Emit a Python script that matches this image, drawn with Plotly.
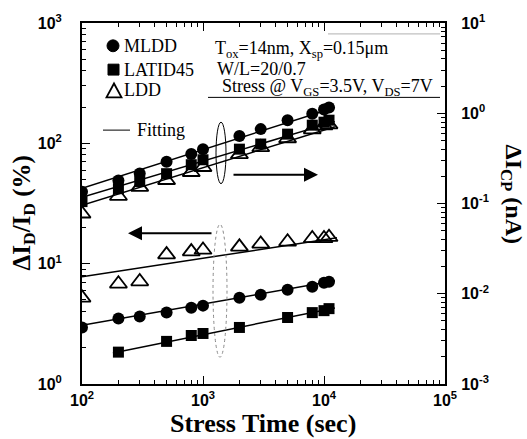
import plotly.graph_objects as go

# Stress times (s)
t_all = [100, 200, 300, 500, 800, 1000, 2000, 3000, 5000, 8000, 10000, 11000]
t_latid_id = [200, 500, 800, 1000, 2000, 5000, 8000, 10000, 11000]

# Drain-current degradation dI_D/I_D (%) -- left axis
mldd_id = [2.95, 3.50, 3.64, 3.92, 4.31, 4.48, 5.21, 5.52, 6.07, 6.42, 6.93, 7.06]
latid_id = [1.84, 2.26, 2.53, 2.63, 2.95, 3.57, 3.92, 4.07, 4.23]
ldd_id = [5.2, 6.8, 7.1, 11.9, 12.6, 13.0, 13.8, 14.6, 15.2, 16.2, 16.2, 16.6]

# Charge-pumping current increase dI_CP (nA) -- right axis
mldd_cp = [0.135, 0.18, 0.215, 0.29, 0.354, 0.40, 0.56, 0.667, 0.837, 0.99, 1.1, 1.16]
latid_cp = [0.105, 0.146, 0.175, 0.214, 0.269, 0.305, 0.40, 0.456, 0.587, 0.738, 0.796, 0.838]
ldd_cp = [0.077, 0.121, 0.152, 0.181, 0.222, 0.252, 0.35, 0.418, 0.525, 0.659, 0.73, 0.748]

# Power-law fit lines (end points on log-log axes)
fit_t = [100, 12300]
fit_t_latid = [180, 12300]
fit_ldd_t = [100, 12800]
fit_mldd_id = [3.07, 7.2]
fit_latid_id = [1.81, 4.29]
fit_ldd_id = [7.8, 16.4]
fit_mldd_cp = [0.147, 1.16]
fit_latid_cp = [0.117, 0.807]
fit_ldd_cp = [0.0957, 0.71]

x_ticks = [1e2, 1e3, 1e4, 1e5]
x_ticktext = ["10<sup>2</sup>", "10<sup>3</sup>", "10<sup>4</sup>", "10<sup>5</sup>"]
yl_ticks = [1, 10, 100, 1000]
yl_ticktext = ["10<sup>0</sup>", "10<sup>1</sup>", "10<sup>2</sup>", "10<sup>3</sup>"]
yr_ticks = [1e-3, 1e-2, 1e-1, 1, 10]
yr_ticktext = ["10<sup>-3</sup>", "10<sup>-2</sup>", "10<sup>-1</sup>", "10<sup>0</sup>", "10<sup>1</sup>"]

legend_names = ["MLDD", "LATID45", "LDD", "Fitting"]


def minor_vals(lo_exp, hi_exp):
    return [m * 10 ** e for e in range(lo_exp, hi_exp) for m in range(2, 10)]


SERIF = "Liberation Serif"
SANS = "Liberation Sans"
LINE = dict(color="black", width=1.5)

fig = go.Figure()

# fit lines
for tx, fy, ax in [
    (fit_t, fit_mldd_id, "y"), (fit_t_latid, fit_latid_id, "y"), (fit_ldd_t, fit_ldd_id, "y"),
    (fit_t, fit_mldd_cp, "y2"), (fit_t, fit_latid_cp, "y2"), (fit_t, fit_ldd_cp, "y2"),
]:
    fig.add_trace(go.Scatter(x=tx, y=fy, mode="lines", line=LINE, yaxis=ax,
                             showlegend=False, hoverinfo="skip"))

circle = dict(symbol="circle", size=12, color="black")
square = dict(symbol="square", size=11, color="black")
tri = dict(symbol="triangle-up-open", size=15, color="black", line=dict(width=1.8, color="black"))

# right-axis (charge pumping) data
fig.add_trace(go.Scatter(x=t_all, y=ldd_cp, mode="markers", marker=tri, yaxis="y2", showlegend=False))
fig.add_trace(go.Scatter(x=t_all, y=latid_cp, mode="markers", marker=square, yaxis="y2", showlegend=False))
fig.add_trace(go.Scatter(x=t_all, y=mldd_cp, mode="markers", marker=circle, yaxis="y2", showlegend=False))

# left-axis (drain current) data
fig.add_trace(go.Scatter(x=t_all, y=mldd_id, mode="markers", marker=circle, name="MLDD", showlegend=False))
fig.add_trace(go.Scatter(x=t_latid_id, y=latid_id, mode="markers", marker=square, name="LATID45", showlegend=False))
fig.add_trace(go.Scatter(x=t_all, y=ldd_id, mode="markers", marker=tri, name="LDD", showlegend=False))

L, R, T, B = 82, 82, 20, 55
W, H = 527, 439
pw, ph = W - L - R, H - T - B


def px(xp):
    return (xp - L) / pw


def py(yp):
    return (H - B - yp) / ph


axis_common = dict(
    type="log", showline=True, linecolor="black", linewidth=2, ticks="inside",
    ticklen=8, tickwidth=1.2, tickcolor="black", showgrid=False, zeroline=False,
    tickfont=dict(family=SANS, size=16, color="black", weight="bold"),
)

fig.update_layout(
    width=W, height=H, autosize=False, showlegend=False,
    margin=dict(l=L, r=R, t=T, b=B),
    paper_bgcolor="white", plot_bgcolor="white",
    xaxis=dict(axis_common, range=[2, 5], tickvals=x_ticks, ticktext=x_ticktext, mirror="ticks",
               ticklabelstandoff=1,
               minor=dict(ticks="inside", ticklen=4, tickcolor="black", tickvals=minor_vals(2, 5))),
    yaxis=dict(axis_common, range=[0, 3], tickvals=yl_ticks, ticktext=yl_ticktext,
               ticklabelstandoff=15,
               minor=dict(ticks="inside", ticklen=4, tickcolor="black", tickvals=minor_vals(0, 3))),
    yaxis2=dict(axis_common, range=[-3, 1], tickvals=yr_ticks, ticktext=yr_ticktext,
                overlaying="y", side="right", ticklabelstandoff=11,
                minor=dict(ticks="inside", ticklen=4, tickcolor="black", tickvals=minor_vals(-3, 1))),
)

title_font = dict(family=SERIF, size=26, color="black", weight="bold")
annotations = [
    dict(text="Stress Time (sec)", x=px(263), y=py(424), font=title_font),
    dict(text="ΔI<sub>D</sub>/I<sub>D</sub> (%)", x=px(23), y=py(212), textangle=-90,
         font=dict(title_font, size=25)),
    dict(text="ΔI<sub>CP</sub> (nA)", x=px(512), y=py(192), textangle=90,
         font=dict(title_font, size=24)),
]
for a in annotations:
    a.update(xref="paper", yref="paper", showarrow=False, xanchor="center", yanchor="middle")
    fig.add_annotation(**a)

# key: symbols and labels
key_font = dict(family=SERIF, size=18, color="black")
for name, xp, yp in zip(legend_names, [122, 122, 122, 135], [43, 67, 88, 128]):
    fig.add_annotation(text=name, x=px(xp), y=py(yp), xref="paper", yref="paper", showarrow=False,
                       xanchor="left", yanchor="middle", font=key_font)

key_shapes = [
    dict(type="circle", x0=px(107), x1=px(119), y0=py(49), y1=py(37),
         fillcolor="black", line=dict(color="black", width=1)),
    dict(type="rect", x0=px(108), x1=px(119), y0=py(72.5), y1=py(61.5),
         fillcolor="black", line=dict(color="black", width=1)),
    dict(type="path",
         path=f"M {px(106.5)} {py(95)} L {px(121.5)} {py(95)} L {px(114)} {py(81)} Z",
         line=dict(color="black", width=1.8)),
    dict(type="line", x0=px(103), x1=px(130), y0=py(128), y1=py(128), line=dict(color="black", width=1)),
]

note_font = dict(family=SERIF, size=18, color="black")
for txt, xp, yp in [
    ("T<sub>ox</sub>=14nm, X<sub>sp</sub>=0.15μm", 213, 47),
    ("W/L=20/0.7", 215, 66),
    ("Stress @ V<sub>GS</sub>=3.5V, V<sub>DS</sub>=7V", 220, 85),
]:
    fig.add_annotation(text=txt, x=px(xp), y=py(yp), xref="paper", yref="paper", showarrow=False,
                       xanchor="left", yanchor="middle", font=note_font)

# direction arrows pointing to each axis
fig.add_annotation(text="", x=px(318), y=py(173), xref="paper", yref="paper", showarrow=True,
                   ax=-86, ay=0, arrowhead=2, arrowsize=1.4, arrowwidth=2, arrowcolor="black")
fig.add_annotation(text="", x=px(128), y=py(232), xref="paper", yref="paper", showarrow=True,
                   ax=85, ay=0, arrowhead=2, arrowsize=1.4, arrowwidth=2, arrowcolor="black")

shapes = key_shapes + [
    # rule under the conditions text
    dict(type="line", x0=px(208), x1=px(440), y0=py(95), y1=py(95), line=dict(color="black", width=1)),
    dict(type="line", x0=px(328), x1=px(440), y0=py(31), y1=py(31), line=dict(color="#b0b0b0", width=1)),
    # group ellipses
    dict(type="circle", x0=px(216), x1=px(226), y0=py(182), y1=py(120), line=dict(color="black", width=1)),
    dict(type="circle", x0=px(213), x1=px(227), y0=py(357), y1=py(223), line=dict(color="#888888", width=1, dash="dot")),
]
for s in shapes:
    s.update(xref="paper", yref="paper")
    fig.add_shape(**s)

fig.write_html("out.html")
